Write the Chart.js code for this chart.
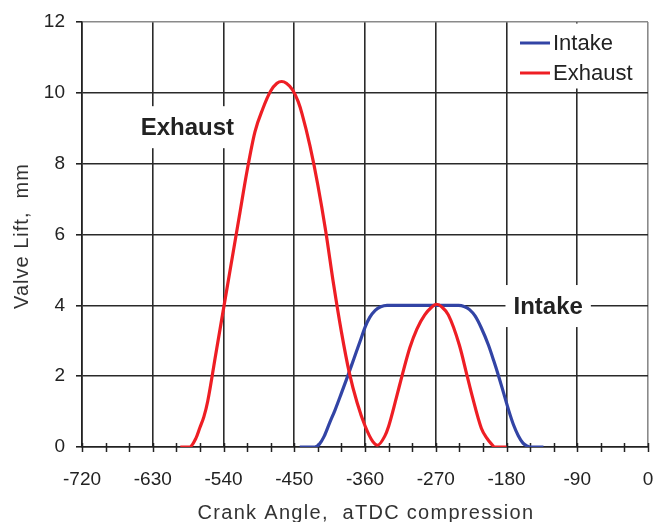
<!DOCTYPE html>
<html>
<head>
<meta charset="utf-8">
<script src="https://cdn.jsdelivr.net/npm/chart.js@4.4.0/dist/chart.umd.min.js"></script>
<style>
  html, body { margin: 0; padding: 0; background: #fff; }
  #wrap { width: 659px; height: 522px; }
</style>
</head>
<body>
<div id="wrap"><canvas id="valveChart" width="659" height="522"></canvas></div>
<script>
// valeurs (angle vilebrequin, levee en mm)
const exhaustAngle = [-595, -583, -575, -570, -565, -560, -550, -540, -530, -520, -510, -500, -490, -480, -472, -466, -460, -452, -445, -440, -430, -420, -410, -400, -390, -380, -370, -360, -350, -344, -335, -330, -320, -313, -303, -294, -284, -276, -269, -262, -254, -240, -230, -224, -212, -205, -199, -195, -180];
const exhaustLift  = [0, 0, 0.25, 0.55, 0.85, 1.3, 2.6, 3.9, 5.2, 6.5, 7.8, 8.9, 9.55, 10.05, 10.27, 10.32, 10.27, 10.08, 9.75, 9.4, 8.5, 7.4, 6.1, 4.6, 3.25, 2.1, 1.25, 0.6, 0.15, 0.05, 0.3, 0.58, 1.4, 2.0, 2.8, 3.33, 3.73, 3.93, 4.03, 3.95, 3.73, 2.88, 2.0, 1.47, 0.53, 0.25, 0.08, 0, 0];

const intakeAngle = [-443, -424, -418, -412, -405, -398, -390, -382, -374, -366, -360, -354, -347, -340, -332, -241, -234, -227, -220, -212, -203, -196, -190, -184, -177, -171, -165, -159, -153, -150, -133];
const intakeLift  = [0, 0, 0.08, 0.3, 0.68, 1.05, 1.52, 2.0, 2.5, 3.0, 3.38, 3.66, 3.86, 3.96, 4.0, 4.0, 3.97, 3.88, 3.7, 3.36, 2.88, 2.42, 2.0, 1.55, 1.02, 0.62, 0.32, 0.11, 0.02, 0, 0];

const xMin = -720, xMax = 0, xStep = 90, xMinorStep = 30;
const yMin = 0, yMax = 12, yStep = 2;

const seriesNames = ['Intake', 'Exhaust'];
const labelTexts = ['Exhaust', 'Intake'];
const labelAngles = [-586, -127];
const labelLifts = [9.03, 3.98];

const FONT = 'Arial, "Liberation Sans", sans-serif';

function toPoints(xs, ys) {
    return xs.map((v, i) => ({ x: v, y: ys[i] }));
}

const decor = {
    id: 'decor',
    beforeDatasetsDraw(chart) {
        const { ctx, chartArea, scales: { x, y } } = chart;
        ctx.save();
        // petites graduations qui traversent l'axe des x
        ctx.strokeStyle = '#222';
        ctx.lineWidth = 1.5;
        for (let a = xMin; a <= xMax; a += xMinorStep) {
            const px = Math.round(x.getPixelForValue(a)) + 0.5;
            ctx.beginPath();
            ctx.moveTo(px, chartArea.bottom - 4);
            ctx.lineTo(px, chartArea.bottom + 5);
            ctx.stroke();
        }
        // etiquettes dans le graphe, fond blanc
        ctx.font = 'bold 24px ' + FONT;
        ctx.textAlign = 'center';
        ctx.textBaseline = 'middle';
        labelTexts.forEach((t, i) => {
            const cx = x.getPixelForValue(labelAngles[i]);
            const cy = y.getPixelForValue(labelLifts[i]);
            const w = ctx.measureText(t).width + 16;
            ctx.fillStyle = '#fff';
            ctx.fillRect(cx - w / 2, cy - 21, w, 42);
            ctx.fillStyle = '#222';
            ctx.fillText(t, cx, cy + 1);
        });
        ctx.restore();
    },
    afterDraw(chart) {
        const { ctx, chartArea } = chart;
        ctx.save();
        // legende
        const lx = chartArea.right - 139;
        ctx.fillStyle = '#fff';
        ctx.fillRect(lx, chartArea.top + 1.5, 137.5, 65);
        ctx.font = '22px ' + FONT;
        ctx.textAlign = 'left';
        ctx.textBaseline = 'middle';
        seriesNames.forEach((name, i) => {
            const ds = chart.data.datasets.find(d => d.label === name);
            const ly = chartArea.top + 21 + i * 30;
            ctx.strokeStyle = ds.borderColor;
            ctx.lineWidth = 3;
            ctx.beginPath();
            ctx.moveTo(lx + 11, ly);
            ctx.lineTo(lx + 41, ly);
            ctx.stroke();
            ctx.fillStyle = '#222';
            ctx.fillText(name, lx + 44, ly + 1);
        });
        // titres des axes
        ctx.fillStyle = '#333';
        ctx.font = '20px ' + FONT;
        ctx.letterSpacing = '1.3px';
        ctx.textAlign = 'center';
        ctx.textBaseline = 'alphabetic';
        ctx.fillText('Crank Angle,  aTDC compression', 366, 519);
        ctx.letterSpacing = '1px';
        ctx.translate(28, 236);
        ctx.rotate(-Math.PI / 2);
        ctx.fillText('Valve Lift,  mm', 0, 0);
        ctx.restore();
    }
};

const ctx = document.getElementById('valveChart').getContext('2d');

const valveChart = new Chart(ctx, {
    type: 'scatter',
    data: {
        datasets: [
            {
                label: 'Exhaust',
                data: toPoints(exhaustAngle, exhaustLift),
                borderColor: 'rgb(238, 30, 36)',
                backgroundColor: 'rgb(238, 30, 36)',
                showLine: true,
                borderWidth: 3.2,
                pointRadius: 0,
                cubicInterpolationMode: 'monotone'
            },
            {
                label: 'Intake',
                data: toPoints(intakeAngle, intakeLift),
                borderColor: 'rgb(50, 68, 165)',
                backgroundColor: 'rgb(50, 68, 165)',
                showLine: true,
                borderWidth: 3.2,
                pointRadius: 0,
                cubicInterpolationMode: 'monotone'
            }
        ]
    },
    options: {
        responsive: false,
        animation: false,
        layout: { padding: { left: 0, right: 11, top: 22, bottom: 0 } },
        plugins: {
            legend: { display: false },
            tooltip: { enabled: false }
        },
        scales: {
            x: {
                type: 'linear',
                min: xMin,
                max: xMax,
                afterFit(scale) {
                    scale.height = 75;
                    scale.paddingLeft = 0;
                    scale.paddingRight = 0;
                },
                ticks: {
                    stepSize: xStep,
                    padding: 21,
                    color: '#222',
                    font: { family: FONT, size: 19 }
                },
                grid: {
                    drawTicks: false,
                    lineWidth: 1.6,
                    color: c => (c.tick && c.tick.value === xMax) ? '#8a8a8a' : '#2a2a2a'
                },
                border: { color: '#222', width: 1.6 }
            },
            y: {
                min: yMin,
                max: yMax,
                afterFit(scale) {
                    scale.width = 82;
                    scale.paddingTop = 0;
                    scale.paddingBottom = 0;
                },
                ticks: {
                    stepSize: yStep,
                    padding: 11,
                    color: '#222',
                    font: { family: FONT, size: 19 }
                },
                grid: {
                    tickLength: 6,
                    lineWidth: 1.6,
                    color: c => (c.tick && c.tick.value === yMax) ? '#8a8a8a' : '#2a2a2a',
                    tickColor: '#222'
                },
                border: { color: '#222', width: 1.6 }
            }
        }
    },
    plugins: [decor]
});
</script>
</body>
</html>
